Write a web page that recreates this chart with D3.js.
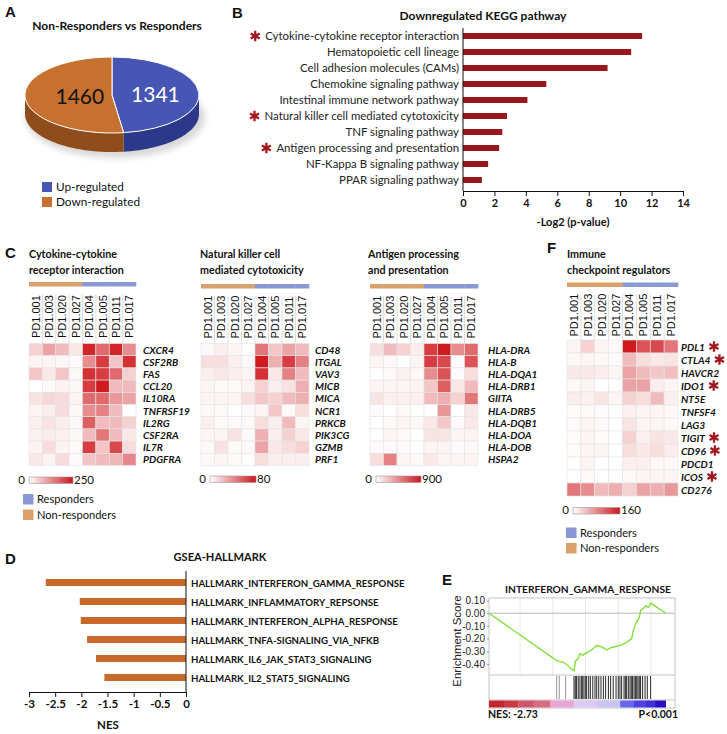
<!DOCTYPE html>
<html>
<head>
<meta charset="UTF-8">
<title>Responders vs non-responders</title>
<style>
  body { margin: 0; background: #fff; }
  svg { display: block; }
</style>
</head>
<body>
<script src="https://cdn.jsdelivr.net/npm/d3@7"></script>
<script>
// ---------- data ----------
let pieCounts = [1341, 1460]
let pieNames = ['Up-regulated', 'Down-regulated']

let keggPathways = ['Cytokine-cytokine receptor interaction', 'Hematopoietic cell lineage',
  'Cell adhesion molecules (CAMs)', 'Chemokine signaling pathway', 'Intestinal immune network pathway',
  'Natural killer cell mediated cytotoxicity', 'TNF signaling pathway', 'Antigen processing and presentation',
  'NF-Kappa B signaling pathway', 'PPAR signaling pathway']
let keggValues = [11.4, 10.7, 9.2, 5.3, 4.1, 2.8, 2.5, 2.3, 1.6, 1.2]
let keggStarred = ['Cytokine-cytokine receptor interaction', 'Natural killer cell mediated cytotoxicity',
  'Antigen processing and presentation']
let keggTicks = [0, 2, 4, 6, 8, 10, 12, 14]

let samples = ['PD1.001', 'PD1.003', 'PD1.020', 'PD1.027', 'PD1.004', 'PD1.005', 'PD1.011', 'PD1.017']
let sampleGroup = ['Non-responders', 'Non-responders', 'Non-responders', 'Non-responders',
  'Responders', 'Responders', 'Responders', 'Responders']

let cytokineGenes = ['CXCR4', 'CSF2RB', 'FAS', 'CCL20', 'IL10RA', 'TNFRSF19', 'IL2RG', 'CSF2RA', 'IL7R', 'PDGFRA']
let cytokineValues = [
  [50, 100, 75, 25, 238, 163, 238, 125],
  [13, 13, 8, 5, 125, 213, 63, 225],
  [63, 25, 63, 8, 225, 213, 163, 50],
  [0, 5, 13, 8, 213, 250, 75, 75],
  [30, 45, 38, 13, 163, 163, 113, 100],
  [13, 20, 38, 8, 125, 138, 75, 0],
  [18, 30, 20, 8, 175, 75, 75, 50],
  [18, 20, 18, 8, 75, 150, 75, 25],
  [13, 38, 13, 5, 213, 63, 200, 38],
  [25, 13, 38, 5, 63, 75, 80, 130]
]

let nkGenes = ['CD48', 'ITGAL', 'VAV3', 'MICB', 'MICA', 'NCR1', 'PRKCB', 'PIK3CG', 'GZMB', 'PRF1']
let nkValues = [
  [2, 6, 4, 0, 48, 20, 32, 24],
  [12, 12, 6, 2, 80, 28, 68, 44],
  [6, 8, 6, 4, 72, 8, 44, 24],
  [4, 2, 2, 4, 16, 6, 10, 28],
  [4, 4, 4, 12, 20, 16, 24, 28],
  [2, 2, 0, 2, 4, 20, 2, 12],
  [6, 2, 2, 2, 12, 6, 24, 4],
  [4, 4, 10, 2, 28, 6, 16, 8],
  [2, 10, 2, 2, 32, 8, 12, 16],
  [2, 4, 2, 1, 12, 6, 6, 6]
]

let antigenGenes = ['HLA-DRA', 'HLA-B', 'HLA-DQA1', 'HLA-DRB1', 'GIITA', 'HLA-DRB5', 'HLA-DQB1', 'HLA-DOA', 'HLA-DOB', 'HSPA2']
let antigenValues = [
  [135, 270, 180, 72, 765, 900, 450, 585],
  [45, 27, 0, 45, 765, 720, 18, 675],
  [0, 18, 63, 27, 450, 675, 18, 135],
  [45, 45, 45, 45, 225, 630, 90, 270],
  [108, 63, 63, 63, 270, 315, 180, 540],
  [18, 0, 27, 0, 0, 405, 0, 90],
  [0, 27, 45, 27, 90, 225, 27, 90],
  [0, 45, 27, 0, 108, 108, 45, 45],
  [18, 18, 18, 0, 45, 45, 18, 27],
  [135, 495, 45, 27, 90, 45, 45, 45]
]

let checkpointGenes = ['PDL1', 'CTLA4', 'HAVCR2', 'IDO1', 'NT5E', 'TNFSF4', 'LAG3', 'TIGIT', 'CD96', 'PDCD1', 'ICOS', 'CD276']
let checkpointValues = [
  [8, 32, 8, 5, 160, 120, 128, 96],
  [5, 8, 5, 3, 48, 24, 16, 19],
  [16, 16, 13, 8, 64, 48, 40, 45],
  [5, 8, 0, 0, 64, 64, 13, 8],
  [13, 11, 19, 8, 32, 24, 48, 11],
  [3, 5, 3, 0, 11, 8, 8, 5],
  [3, 8, 5, 0, 19, 8, 8, 5],
  [3, 8, 3, 0, 32, 11, 19, 16],
  [3, 8, 8, 0, 24, 16, 24, 13],
  [0, 8, 0, 0, 11, 11, 5, 5],
  [0, 5, 0, 0, 5, 8, 8, 8],
  [96, 80, 48, 56, 32, 64, 56, 72]
]
let checkpointStarred = ['PDL1', 'CTLA4', 'IDO1', 'TIGIT', 'CD96', 'ICOS']

let hallmarkSets = ['HALLMARK_INTERFERON_GAMMA_RESPONSE', 'HALLMARK_INFLAMMATORY_REPSONSE',
  'HALLMARK_INTERFERON_ALPHA_RESPONSE', 'HALLMARK_TNFA-SIGNALING_VIA_NFKB',
  'HALLMARK_IL6_JAK_STAT3_SIGNALING', 'HALLMARK_IL2_STAT5_SIGNALING']
let hallmarkNES = [-2.68, -2.03, -2.01, -1.89, -1.72, -1.56]
let nesTicks = [-3, -2.5, -2, -1.5, -1, -0.5, 0]

// running enrichment score (rank as fraction of gene list)
let esRank = [0, 0.364, 0.378, 0.40, 0.457, 0.464, 0.48, 0.489, 0.504, 0.525, 0.552, 0.579, 0.606,
  0.633, 0.66, 0.687, 0.713, 0.74, 0.767, 0.776, 0.79, 0.808, 0.815, 0.83, 0.844, 0.857, 0.869, 0.95]
let esScore = [0, -0.373, -0.38, -0.385, -0.455, -0.38, -0.355, -0.32, -0.33, -0.31, -0.29, -0.255, -0.265,
  -0.29, -0.27, -0.26, -0.25, -0.23, -0.2, -0.135, -0.08, -0.035, 0.02, 0.04, 0.06, 0.045, 0.08, 0.0]
let hitRanks = [0.364, 0.378, 0.412, 0.457, 0.464, 0.471, 0.48, 0.489, 0.498, 0.504, 0.511, 0.52, 0.525,
  0.536, 0.545, 0.558, 0.57, 0.579, 0.59, 0.602, 0.615, 0.627, 0.642, 0.654, 0.668, 0.683, 0.695, 0.704,
  0.713, 0.726, 0.733, 0.74, 0.749, 0.758, 0.765, 0.772, 0.78, 0.787, 0.794, 0.801, 0.808, 0.815, 0.826,
  0.839, 0.851, 0.869]
let esTicks = [0.10, 0.00, -0.10, -0.20, -0.30, -0.40]
let rankBarStops = [0, 0.08, 0.158, 0.24, 0.33, 0.455, 0.58, 0.705, 0.777, 0.84, 0.893, 0.95]
let rankBarColors = ['#c1272d', '#cb3a40', '#d2566a', '#d66f7d', '#e6a6d6', '#dccaf2', '#c8c4f4',
  '#6666ee', '#4e40e2', '#4030da', '#2a0ec6']

// ---------- setup ----------
const CAL = 'Lato, "Open Sans", sans-serif'
const ARI = '"Liberation Sans", Arial, sans-serif'
const groupColor = { 'Responders': '#8b98d8', 'Non-responders': '#daa06c' }

let svg = d3.select('body').append('svg').attr('width', 727).attr('height', 734)
let defs = svg.append('defs')
defs.append('filter').attr('id', 'blur').append('feGaussianBlur').attr('stdDeviation', 3)
let hg = defs.append('linearGradient').attr('id', 'hmGrad')
hg.append('stop').attr('offset', '0%').attr('stop-color', '#ffffff')
hg.append('stop').attr('offset', '100%').attr('stop-color', '#cc161c')

// font size so that `txt` is `target` px wide (Calibri in the original is narrower than Lato)
function fitSize(txt, target, weight, style) {
  let t = svg.append('text').attr('font-family', CAL).attr('font-size', 20)
    .attr('font-weight', weight || 'normal').attr('font-style', style || 'normal').text(txt)
  let w = t.node().getComputedTextLength()
  t.remove()
  return 20 * target / w
}

function panelLetter(t, x, y) {
  svg.append('text').attr('x', x).attr('y', y).text(t)
    .attr('font-family', ARI).attr('font-weight', 'bold').attr('font-size', 15).attr('fill', '#111')
}

function star(g, x, y) {
  let s = g.append('g').attr('transform', `translate(${x},${y})`)
  ;[90, 30, 150].forEach(a => {
    let r = 5.2, c = Math.cos(a * Math.PI / 180), sn = Math.sin(a * Math.PI / 180)
    s.append('line').attr('x1', -r * c).attr('y1', -r * sn).attr('x2', r * c).attr('y2', r * sn)
      .attr('stroke', '#a3161f').attr('stroke-width', 2.3)
  })
}

let titleSize = fitSize('Non-Responders vs Responders', 170, 'bold')
let geneSize = fitSize('TNFRSF19', 47, 'bold', 'italic')
let hmTitleSize = fitSize('Cytokine-cytokine', 88, 'bold')

// ---------- A: pie ----------
panelLetter('A', 5, 17)
svg.append('text').attr('x', 117).attr('y', 30).attr('text-anchor', 'middle')
  .attr('font-family', CAL).attr('font-weight', 'bold').attr('font-size', titleSize).attr('fill', '#111')
  .text('Non-Responders vs Responders')

let pcx = 112, pcy = 95, prx = 87, pry = 38, pdepth = 19
let pieTop = ['#4756b5', '#c6712f']
let pieSide = ['#2c3889', '#8f4d1b']
let arcs = d3.pie().sort(null)(pieCounts)
let gPie = svg.append('g')
gPie.append('ellipse').attr('cx', pcx + 3).attr('cy', pcy + pdepth + 3).attr('rx', prx + 3).attr('ry', pry + 3)
  .attr('fill', '#d8d8d8').attr('filter', 'url(#blur)')

function sidePath(a0, a1) {
  a0 = Math.max(a0, Math.PI / 2); a1 = Math.min(a1, 3 * Math.PI / 2)
  if (a1 <= a0) return null
  let ang = d3.range(41).map(i => a0 + (a1 - a0) * i / 40)
  let top = ang.map(a => [pcx + prx * Math.sin(a), pcy - pry * Math.cos(a)])
  let bot = ang.slice().reverse().map(a => [pcx + prx * Math.sin(a), pcy - pry * Math.cos(a) + pdepth])
  return d3.line()(top.concat(bot)) + 'Z'
}
arcs.forEach((a, i) => {
  let d = sidePath(a.startAngle, a.endAngle)
  if (d) gPie.append('path').attr('d', d).attr('fill', pieSide[i])
})
let gTop = gPie.append('g').attr('transform', `translate(${pcx},${pcy}) scale(${prx},${pry})`)
let arcGen = d3.arc().innerRadius(0).outerRadius(1)
gTop.selectAll('path').data(arcs).join('path').attr('d', arcGen)
  .attr('fill', (d, i) => pieTop[i]).attr('stroke', '#fff').attr('stroke-width', 1)
  .attr('vector-effect', 'non-scaling-stroke')
let labelR = [0.5, 0.37]
arcs.forEach((a, i) => {
  let c = d3.arc().innerRadius(labelR[i]).outerRadius(labelR[i]).centroid(a)
  svg.append('text').attr('x', pcx + c[0] * prx).attr('y', pcy + c[1] * pry)
    .attr('text-anchor', 'middle').attr('dominant-baseline', 'central')
    .attr('font-family', CAL).attr('font-size', 21).attr('fill', i === 0 ? '#fff' : '#111')
    .text(pieCounts[i])
})
pieNames.forEach((n, i) => {
  svg.append('rect').attr('x', 42).attr('y', 182 + i * 15).attr('width', 10).attr('height', 10).attr('fill', pieTop[i])
  svg.append('text').attr('x', 56).attr('y', 191 + i * 15).text(n)
    .attr('font-family', CAL).attr('font-size', fitSize('Up-regulated', 68)).attr('fill', '#111')
})

// ---------- B: KEGG bars ----------
panelLetter('B', 232, 18)
svg.append('text').attr('x', 483).attr('y', 20).attr('text-anchor', 'middle')
  .attr('font-family', CAL).attr('font-weight', 'bold').attr('font-size', fitSize('Downregulated KEGG pathway', 167, 'bold'))
  .attr('fill', '#111').text('Downregulated KEGG pathway')
let kx = d3.scaleLinear().domain([0, 14]).range([463, 683])
let ky = d3.scaleBand().domain(keggPathways).range([28, 188]).paddingInner(0.625).paddingOuter(0.3125)
let gB = svg.append('g')
gB.selectAll('rect').data(keggPathways).join('rect')
  .attr('x', kx(0)).attr('y', d => ky(d)).attr('height', ky.bandwidth())
  .attr('width', (d, i) => kx(keggValues[i]) - kx(0)).attr('fill', '#9b171c')
let kAxis = gB.append('g').attr('transform', 'translate(0,191)')
  .call(d3.axisBottom(kx).tickValues(keggTicks).tickSize(5).tickSizeOuter(0))
kAxis.selectAll('text').attr('font-family', CAL).attr('font-weight', 'bold').attr('font-size', 11).attr('fill', '#111')
kAxis.selectAll('line, path').attr('stroke', '#111')
gB.append('line').attr('x1', 463).attr('x2', 463).attr('y1', 28).attr('y2', 191).attr('stroke', '#111')
let kLab = gB.append('g').attr('transform', 'translate(463,0)').call(d3.axisLeft(ky).tickSize(0).tickPadding(4))
kLab.select('.domain').remove()
kLab.selectAll('text').attr('font-family', CAL).attr('fill', '#222')
  .attr('font-size', fitSize('Cytokine-cytokine receptor interaction', 194))
kLab.selectAll('.tick').each(function (d) {
  if (keggStarred.includes(d)) {
    let w = this.querySelector('text').getComputedTextLength()
    star(gB, 463 - 4 - w - 10, ky(d) + ky.bandwidth() / 2)
  }
})
svg.append('text').attr('x', 573).attr('y', 226).attr('text-anchor', 'middle')
  .attr('font-family', CAL).attr('font-weight', 'bold').attr('font-size', 11).attr('fill', '#111')
  .text('-Log2 (p-value)')

// ---------- C, F: heatmaps ----------
function heatmap(cfg) {
  let g = svg.append('g')
  let x = d3.scaleBand().domain(samples).range([cfg.x0, cfg.x1])
  let y = d3.scaleBand().domain(cfg.genes).range([cfg.y0, cfg.y0 + cfg.rowH * cfg.genes.length])
  let color = d3.scaleLinear().domain([0, cfg.max]).range(['#ffffff', '#cf1a1f'])

  cfg.title.forEach((t, i) => g.append('text').attr('x', cfg.titleX).attr('y', cfg.titleY + i * 15.5).text(t)
    .attr('font-family', CAL).attr('font-weight', 'bold').attr('font-size', hmTitleSize).attr('fill', '#111'))

  g.selectAll('rect.grp').data(samples).join('rect').attr('class', 'grp')
    .attr('x', d => x(d)).attr('y', cfg.barY).attr('width', x.bandwidth() + 0.3).attr('height', 4.5)
    .attr('fill', (d, i) => groupColor[sampleGroup[i]])

  g.selectAll('line.sep').data(samples.slice(1)).join('line').attr('class', 'sep')
    .attr('x1', d => x(d)).attr('x2', d => x(d)).attr('y1', cfg.barY + 12).attr('y2', cfg.y0)
    .attr('stroke', '#cfcfcf').attr('stroke-width', 0.7)
  g.selectAll('text.col').data(samples).join('text').attr('class', 'col')
    .attr('transform', d => `translate(${x(d) + x.bandwidth() / 2 + 4},${cfg.labBottom}) rotate(-90)`)
    .attr('font-family', ARI).attr('font-size', 11).attr('fill', '#111').text(d => d)

  let cells = cfg.values.flatMap((row, r) => row.map((v, c) => ({ gene: cfg.genes[r], sample: samples[c], v: v })))
  g.selectAll('rect.cell').data(cells).join('rect').attr('class', 'cell')
    .attr('x', d => x(d.sample)).attr('y', d => y(d.gene))
    .attr('width', x.bandwidth()).attr('height', y.bandwidth())
    .attr('fill', d => color(d.v)).attr('stroke', '#e4e4e4').attr('stroke-width', 0.6)

  g.selectAll('text.gene').data(cfg.genes).join('text').attr('class', 'gene')
    .attr('x', cfg.labelX).attr('y', d => y(d) + y.bandwidth() / 2).attr('dominant-baseline', 'central')
    .attr('font-family', CAL).attr('font-weight', 'bold').attr('font-style', 'italic').attr('font-size', geneSize)
    .attr('fill', '#111').text(d => d)
  if (cfg.starred) {
    g.selectAll('text.gene').each(function (d) {
      if (cfg.starred.includes(d)) star(g, cfg.labelX + this.getComputedTextLength() + 9, y(d) + y.bandwidth() / 2)
    })
  }

  // colour key
  let cb = cfg.cbar
  g.append('rect').attr('x', cb.x0).attr('y', cb.y).attr('width', cb.x1 - cb.x0).attr('height', 6.5)
    .attr('fill', 'url(#hmGrad)').attr('stroke', '#999').attr('stroke-width', 0.6)
  g.append('text').attr('x', cb.x0 - 4).attr('y', cb.y + 6.5).attr('text-anchor', 'end').text('0')
    .attr('font-family', CAL).attr('font-size', 11.5).attr('fill', '#111')
  g.append('text').attr('x', cb.x1 + 1).attr('y', cb.y + 6.5).text(cfg.max)
    .attr('font-family', CAL).attr('font-size', 11.5).attr('fill', '#111')
}

function groupLegend(x, y) {
  ['Responders', 'Non-responders'].forEach((n, i) => {
    svg.append('rect').attr('x', x).attr('y', y + i * 15.5).attr('width', 10.5).attr('height', 10.5).attr('fill', groupColor[n])
    svg.append('text').attr('x', x + 14).attr('y', y + 9 + i * 15.5).text(n)
      .attr('font-family', CAL).attr('font-size', fitSize('Responders', 57)).attr('fill', '#111')
  })
}

panelLetter('C', 5, 258)
heatmap({ genes: cytokineGenes, values: cytokineValues, max: 250, x0: 29, x1: 136, y0: 343.5, rowH: 12.2,
  title: ['Cytokine-cytokine', 'receptor interaction'], titleX: 29, titleY: 258, barY: 282, labBottom: 338,
  labelX: 143, cbar: { x0: 29, x1: 73, y: 477 } })
heatmap({ genes: nkGenes, values: nkValues, max: 80, x0: 201, x1: 309, y0: 343.5, rowH: 12.2,
  title: ['Natural killer cell', 'mediated cytotoxicity'], titleX: 200, titleY: 258, barY: 284, labBottom: 338.5,
  labelX: 315, cbar: { x0: 210, x1: 256, y: 476 } })
heatmap({ genes: antigenGenes, values: antigenValues, max: 900, x0: 370, x1: 478, y0: 343.5, rowH: 12.2,
  title: ['Antigen processing', 'and presentation'], titleX: 368, titleY: 258, barY: 284, labBottom: 338.5,
  labelX: 488, cbar: { x0: 376, x1: 421, y: 476 } })
groupLegend(23, 494)

panelLetter('F', 547, 253)
heatmap({ genes: checkpointGenes, values: checkpointValues, max: 160, x0: 567, x1: 678, y0: 340, rowH: 13,
  title: ['Immune', 'checkpoint regulators'], titleX: 567, titleY: 258, barY: 282.5, labBottom: 336.5,
  labelX: 681, starred: checkpointStarred, cbar: { x0: 573, x1: 620, y: 507.5 } })
groupLegend(566, 527.5)

// ---------- D: GSEA hallmark NES ----------
panelLetter('D', 5, 564)
svg.append('text').attr('x', 220).attr('y', 561).attr('text-anchor', 'middle')
  .attr('font-family', CAL).attr('font-weight', 'bold').attr('font-size', fitSize('GSEA-HALLMARK', 93, 'bold'))
  .attr('fill', '#111').text('GSEA-HALLMARK')
let dx = d3.scaleLinear().domain([-3, 0]).range([29, 186])
let dy = d3.scaleBand().domain(hallmarkSets).range([573, 687]).paddingInner(0.63).paddingOuter(0.315)
let gD = svg.append('g')
gD.selectAll('rect').data(hallmarkSets).join('rect')
  .attr('x', (d, i) => dx(hallmarkNES[i])).attr('y', d => dy(d)).attr('height', dy.bandwidth())
  .attr('width', (d, i) => dx(0) - dx(hallmarkNES[i])).attr('fill', '#c8692b')
let dAxis = gD.append('g').attr('transform', 'translate(0,692)')
  .call(d3.axisBottom(dx).tickValues(nesTicks).tickFormat(d => String(d)).tickSize(5).tickSizeOuter(0))
dAxis.selectAll('text').attr('font-family', CAL).attr('font-weight', 'bold').attr('font-size', 11.5).attr('fill', '#111')
dAxis.selectAll('line, path').attr('stroke', '#111')
gD.append('line').attr('x1', 186).attr('x2', 186).attr('y1', 571).attr('y2', 692).attr('stroke', '#111')
gD.selectAll('text.set').data(hallmarkSets).join('text').attr('class', 'set')
  .attr('x', 191).attr('y', d => dy(d) + dy.bandwidth() / 2).attr('dominant-baseline', 'central')
  .attr('font-family', CAL).attr('font-weight', 'bold')
  .attr('font-size', fitSize('HALLMARK_INTERFERON_GAMMA_RESPONSE', 214, 'bold')).attr('fill', '#111').text(d => d)
svg.append('text').attr('x', 108).attr('y', 729).attr('text-anchor', 'middle')
  .attr('font-family', CAL).attr('font-weight', 'bold').attr('font-size', 11.5).attr('fill', '#111').text('NES')

// ---------- E: enrichment plot ----------
panelLetter('E', 442, 585)
svg.append('text').attr('x', 588).attr('y', 593).attr('text-anchor', 'middle')
  .attr('font-family', CAL).attr('font-weight', 'bold')
  .attr('font-size', fitSize('INTERFERON_GAMMA_RESPONSE', 166, 'bold')).attr('fill', '#111')
  .text('INTERFERON_GAMMA_RESPONSE')
let ex = d3.scaleLinear().domain([0, 1]).range([489, 675])
let ey = d3.scaleLinear().domain([-0.487, 0.12]).range([675, 598])
let gE = svg.append('g')
gE.selectAll('line.vg').data([0.167, 0.343, 0.519, 0.695, 0.871]).join('line').attr('class', 'vg')
  .attr('x1', d => ex(d)).attr('x2', d => ex(d)).attr('y1', 598).attr('y2', 675)
  .attr('stroke', '#e2e2e2').attr('stroke-width', 0.8)
gE.append('line').attr('x1', 489).attr('x2', 675).attr('y1', ey(0)).attr('y2', ey(0))
  .attr('stroke', '#b8b8b8').attr('stroke-width', 1)
gE.append('rect').attr('x', 489).attr('y', 598).attr('width', 186).attr('height', 110)
  .attr('fill', 'none').attr('stroke', '#c4c4c4').attr('stroke-width', 1)
gE.append('line').attr('x1', 489).attr('x2', 675).attr('y1', 675).attr('y2', 675).attr('stroke', '#c4c4c4')
gE.append('line').attr('x1', 489).attr('x2', 675).attr('y1', 700).attr('y2', 700).attr('stroke', '#c4c4c4')
gE.selectAll('line.hit').data(hitRanks).join('line').attr('class', 'hit')
  .attr('x1', d => ex(d)).attr('x2', d => ex(d)).attr('y1', 676).attr('y2', 699)
  .attr('stroke', (d, i) => i < 3 ? '#8a8a8a' : '#111').attr('stroke-width', 0.9)
gE.selectAll('rect.rk').data(rankBarColors).join('rect').attr('class', 'rk')
  .attr('x', (d, i) => ex(rankBarStops[i])).attr('width', (d, i) => ex(rankBarStops[i + 1]) - ex(rankBarStops[i]) + 0.3)
  .attr('y', 700.5).attr('height', 7).attr('fill', d => d)
gE.append('path').datum(esRank.map((r, i) => [r, esScore[i]]))
  .attr('d', d3.line().x(d => ex(d[0])).y(d => ey(d[1])))
  .attr('fill', 'none').attr('stroke', '#7fe03a').attr('stroke-width', 1.4)
let eAxis = gE.append('g').attr('transform', 'translate(489,0)')
  .call(d3.axisLeft(ey).tickValues(esTicks).tickSize(2).tickPadding(2)
    .tickFormat(d => (d < 0 ? '-' : '') + Math.abs(d).toFixed(2)))
eAxis.select('.domain').remove()
eAxis.selectAll('line').attr('stroke', '#999')
eAxis.selectAll('text').attr('font-family', ARI).attr('font-size', 10).attr('fill', '#222')
svg.append('text').attr('transform', 'translate(461,641) rotate(-90)').attr('text-anchor', 'middle')
  .attr('font-family', ARI).attr('font-size', 11.5).attr('fill', '#222').text('Enrichment Score')
svg.append('text').attr('x', 488).attr('y', 718).attr('font-family', CAL).attr('font-weight', 'bold')
  .attr('font-size', 10.5).attr('fill', '#111').text('NES: -2.73')
svg.append('text').attr('x', 678).attr('y', 718).attr('text-anchor', 'end').attr('font-family', CAL)
  .attr('font-weight', 'bold').attr('font-size', 10.5).attr('fill', '#111').text('P<0.001')
</script>
</body>
</html>
